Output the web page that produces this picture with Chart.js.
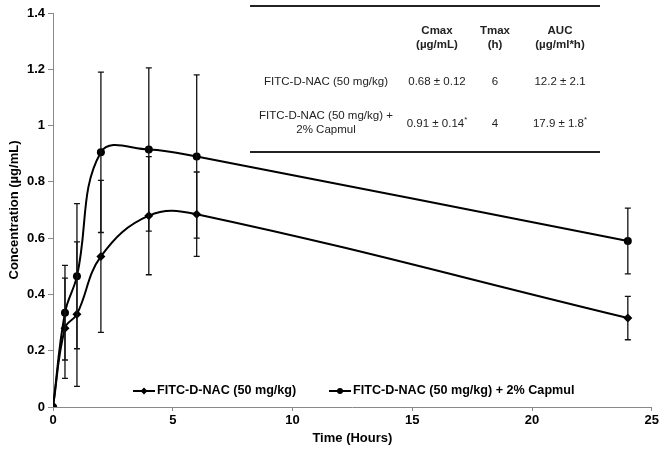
<!DOCTYPE html>
<html>
<head>
<meta charset="utf-8">
<script src="https://cdn.jsdelivr.net/npm/chart.js@4/dist/chart.umd.min.js"></script>
<style>
  html, body { margin: 0; padding: 0; background: #fff; }
  #wrap { position: relative; width: 661px; height: 451px; }
  #chart { position: absolute; left: 0; top: 0; }
  #pk {
    position: absolute; left: 250px; top: 5px; width: 350px; height: 144px;
    border-top: 2px solid #222; border-bottom: 2px solid #222;
    font-family: 'Liberation Sans', Arial, sans-serif; font-size: 11.5px; color: #222;
  }
  #pk div { position: absolute; text-align: center; line-height: 14px; white-space: nowrap; }
  #pk .hd { font-weight: bold; }
  #pk sup { font-size: 8px; line-height: 0; vertical-align: 5px; }
</style>
</head>
<body>
<div id="wrap">
  <canvas id="chart" width="661" height="451"></canvas>
  <div id="pk"></div>
</div>
<script>
(function () {
  'use strict';

  // --- Data ---
  var hours = [0, 0.5, 1, 2, 4, 6, 24];
  var nacMean = [0, 0.28, 0.33, 0.535, 0.68, 0.685, 0.316];
  var nacSd = [0, 0.178, 0.257, 0.27, 0.21, 0.15, 0.077];
  var capmulMean = [0, 0.335, 0.465, 0.905, 0.915, 0.89, 0.59];
  var capmulSd = [0, 0.168, 0.258, 0.285, 0.29, 0.29, 0.117];

  var seriesNames = ['FITC-D-NAC (50 mg/kg)', 'FITC-D-NAC (50 mg/kg) + 2% Capmul'];
  var yTicks = [0, 0.2, 0.4, 0.6, 0.8, 1, 1.2, 1.4];

  // PK summary table
  var pkHeaders = [['Cmax', '(µg/mL)'], ['Tmax', '(h)'], ['AUC', '(µg/ml*h)']];
  var pkRowNames = [['FITC-D-NAC (50 mg/kg)'], ['FITC-D-NAC (50 mg/kg) +', '2% Capmul']];
  var pkCmax = ['0.68 ± 0.12', '0.91 ± 0.14<sup>*</sup>'];
  var pkTmax = ['6', '4'];
  var pkAuc = ['12.2 ± 2.1', '17.9 ± 1.8<sup>*</sup>'];

  // --- Table ---
  function cell(html, cx, top, cls) {
    return '<div class="' + (cls || '') + '" style="left:' + (cx - 90) + 'px;width:180px;top:' + top + 'px">' + html + '</div>';
  }

  var colX = [76, 187, 245, 310];
  var rowTop = [67, 109];
  var html = '';
  pkHeaders.forEach(function (h, i) {
    html += cell(h.join('<br>'), colX[i + 1], 16, 'hd');
  });
  pkRowNames.forEach(function (r, i) {
    var t = r.length > 1 ? rowTop[i] - 8 : rowTop[i];
    html += cell(r.join('<br>'), colX[0], t);
    html += cell(pkCmax[i], colX[1], rowTop[i]);
    html += cell(pkTmax[i], colX[2], rowTop[i]);
    html += cell(pkAuc[i], colX[3], rowTop[i]);
  });
  document.getElementById('pk').innerHTML = html;

  function toPoints(xs, ys) {
    return xs.map(function (x, i) { return { x: x, y: ys[i] }; });
  }

  // --- Error bars ---
  var errors = [nacSd, capmulSd];
  var errorBars = {
    id: 'errorBars',
    afterDatasetsDraw: function (chart) {
      var ctx = chart.ctx;
      var xs = chart.scales.x, ys = chart.scales.y;
      ctx.save();
      ctx.strokeStyle = '#111';
      ctx.lineWidth = 1.3;
      chart.data.datasets.forEach(function (ds, di) {
        ds.data.forEach(function (p, i) {
          var sd = errors[di][i];
          if (!sd) return;
          var px = xs.getPixelForValue(p.x);
          var top = ys.getPixelForValue(p.y + sd);
          var bot = ys.getPixelForValue(p.y - sd);
          ctx.beginPath();
          ctx.moveTo(px, top); ctx.lineTo(px, bot);
          ctx.moveTo(px - 3, top); ctx.lineTo(px + 3, top);
          ctx.moveTo(px - 3, bot); ctx.lineTo(px + 3, bot);
          ctx.stroke();
        });
      });
      ctx.restore();
    }
  };

  // --- Legend in plot area ---
  var plotLegend = {
    id: 'plotLegend',
    afterDraw: function (chart) {
      var ctx = chart.ctx;
      var items = [{ x: 133, style: 'rectRot' }, { x: 329, style: 'circle' }];
      var y = 391;
      ctx.save();
      ctx.font = 'bold 12.6px "Liberation Sans", Arial, sans-serif';
      ctx.textBaseline = 'middle';
      ctx.fillStyle = '#000';
      ctx.strokeStyle = '#000';
      items.forEach(function (it, i) {
        ctx.lineWidth = 2;
        ctx.beginPath();
        ctx.moveTo(it.x, y); ctx.lineTo(it.x + 22, y);
        ctx.stroke();
        Chart.helpers.drawPoint(ctx, { pointStyle: it.style, radius: it.style === 'circle' ? 3 : 3.5, borderWidth: 0 }, it.x + 11, y);
        ctx.fillText(seriesNames[i], it.x + 24, y);
      });
      ctx.restore();
    }
  };

  var font = { family: "'Liberation Sans', Arial, sans-serif", size: 13, weight: 'bold' };

  new Chart(document.getElementById('chart').getContext('2d'), {
    type: 'line',
    data: {
      datasets: [
        {
          label: seriesNames[0],
          data: toPoints(hours, nacMean),
          borderColor: '#000', backgroundColor: '#000',
          borderWidth: 2, pointStyle: 'rectRot', pointRadius: 4.5, pointBorderWidth: 0,
          tension: 0.4, fill: false
        },
        {
          label: seriesNames[1],
          data: toPoints(hours, capmulMean),
          borderColor: '#000', backgroundColor: '#000',
          borderWidth: 2, pointStyle: 'circle', pointRadius: 4, pointBorderWidth: 0,
          tension: 0.4, fill: false
        }
      ]
    },
    options: {
      responsive: false,
      animation: false,
      layout: { padding: { left: 0, top: 13, right: 8, bottom: 0 } },
      plugins: { legend: { display: false }, tooltip: { enabled: false } },
      scales: {
        x: {
          type: 'linear', min: 0, max: 25,
          ticks: { stepSize: 5, font: font, color: '#000', padding: 2, maxRotation: 0 },
          grid: { drawOnChartArea: false, drawTicks: true, tickLength: 4, color: '#888' },
          border: { display: true, color: '#888', width: 1 },
          title: { display: true, text: 'Time (Hours)', font: font, color: '#000', padding: { top: 0, bottom: 5 } },
          afterFit: function (s) { s.height = 44; }
        },
        y: {
          min: 0, max: 1.4,
          afterBuildTicks: function (s) { s.ticks = yTicks.map(function (v) { return { value: v }; }); },
          ticks: {
            font: font, color: '#000', padding: 3,
            callback: function (v) { return String(Math.round(v * 10) / 10); }
          },
          grid: { drawOnChartArea: false, drawTicks: true, tickLength: 5, color: '#888' },
          border: { display: true, color: '#888', width: 1 },
          title: { display: true, text: 'Concentration (µg/mL)', font: font, color: '#000', padding: { top: 7, bottom: 0 } },
          afterFit: function (s) { s.width = 53; }
        }
      }
    },
    plugins: [errorBars, plotLegend]
  });
})();
</script>
</body>
</html>
